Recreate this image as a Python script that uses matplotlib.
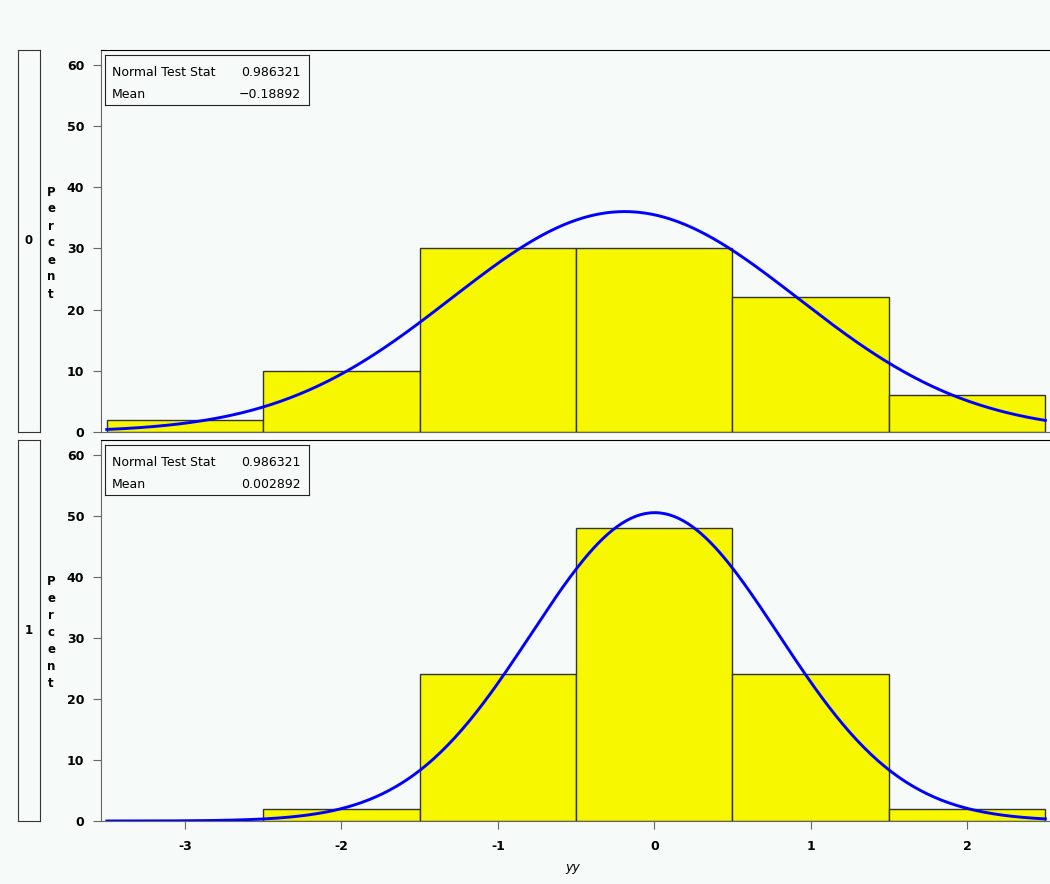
import numpy as np
import matplotlib
matplotlib.use('Agg')
import matplotlib.pyplot as plt

plt.rcParams['axes.unicode_minus'] = False

# Histogram data (percent per bin), bins of width 1 centred on integers
bin_mids = [-3, -2, -1, 0, 1, 2]
pct_0 = [2, 10, 30, 30, 22, 6]
pct_1 = [0, 2, 24, 48, 24, 2]

# Fitted normal curve parameters
mean_0, sd_0 = -0.18892, 1.108
mean_1, sd_1 = 0.002892, 0.79
stat_labels = ['Normal Test Stat', 'Mean']
stat_0 = ['0.986321', '\u22120.18892']
stat_1 = ['0.986321', '0.002892']
groups = ['0', '1']

bg = '#f6faf8'
W, H = 1050, 884
fig = plt.figure(figsize=(W / 100, H / 100), dpi=100, facecolor=bg)

def fx(px):
    return px / W

def fy(py):
    return 1 - py / H

panels = [
    (groups[0], pct_0, mean_0, sd_0, stat_0, 50, 432),
    (groups[1], pct_1, mean_1, sd_1, stat_1, 440, 821),
]

xs = np.linspace(-3.5, 2.5, 400)
for i, (grp, pct, mu, sd, stats, top, bot) in enumerate(panels):
    ax = fig.add_axes([fx(101), fy(bot), fx(1050 - 101), (bot - top) / H])
    ax.set_facecolor(bg)
    ax.bar(bin_mids, pct, width=1.0, color='#f7f700', edgecolor='#333333', linewidth=1.0)
    dens = 100 * 1.0 * np.exp(-0.5 * ((xs - mu) / sd) ** 2) / (sd * np.sqrt(2 * np.pi))
    ax.plot(xs, dens, color='#0000ff', linewidth=2.1)
    ax.set_xlim(-3.537, 2.53)
    ax.set_ylim(0, 62.4)
    ax.set_yticks([0, 10, 20, 30, 40, 50, 60])
    ax.spines['right'].set_visible(False)
    ax.spines['top'].set_color('black')
    ax.spines['left'].set_color('#666666')
    ax.spines['bottom'].set_color('#666666')
    ax.tick_params(axis='y', direction='out', length=6, color='#666666', pad=6)
    for lab in ax.get_yticklabels():
        lab.set_fontweight('bold')
        lab.set_fontsize(9)
    if i == 1:
        ax.set_xticks([-3, -2, -1, 0, 1, 2])
        ax.tick_params(axis='x', direction='out', length=6, color='#666666', pad=8)
        for lab in ax.get_xticklabels():
            lab.set_fontweight('bold')
            lab.set_fontsize(9)
    else:
        ax.set_xticks([])

    # stats inset box
    bx = fig.add_axes([fx(105), fy(top + 55), fx(309 - 105), 50 / H])
    bx.set_xticks([])
    bx.set_yticks([])
    bx.set_facecolor(bg)
    for s in bx.spines.values():
        s.set_color('#222222')
    for r, (lbl, val) in enumerate(zip(stat_labels, stats)):
        yy = 0.64 - r * 0.44
        bx.text(0.035, yy, lbl, fontsize=9, va='center', ha='left', transform=bx.transAxes)
        bx.text(0.96, yy, val, fontsize=9, va='center', ha='right', transform=bx.transAxes)

    # group strip on the left
    sx = fig.add_axes([fx(18), fy(bot), fx(40 - 18), (bot - top) / H])
    sx.set_facecolor(bg)
    sx.set_xticks([])
    sx.set_yticks([])
    for s in sx.spines.values():
        s.set_color('#333333')
    sx.text(0.5, 0.5, grp, fontsize=8.5, fontweight='bold', ha='center', va='center',
            transform=sx.transAxes)

    # vertical stacked 'Percent' label
    mid = (top + bot) / 2
    fig.text(fx(51), fy(mid + 2), '\n'.join('Percent'), fontsize=8.5, fontweight='bold',
             ha='center', va='center', linespacing=1.4)

fig.text(fx(573), fy(868), 'yy', fontsize=9, style='italic', ha='center', va='center')

fig.savefig('out.png', dpi=100, facecolor=bg)
